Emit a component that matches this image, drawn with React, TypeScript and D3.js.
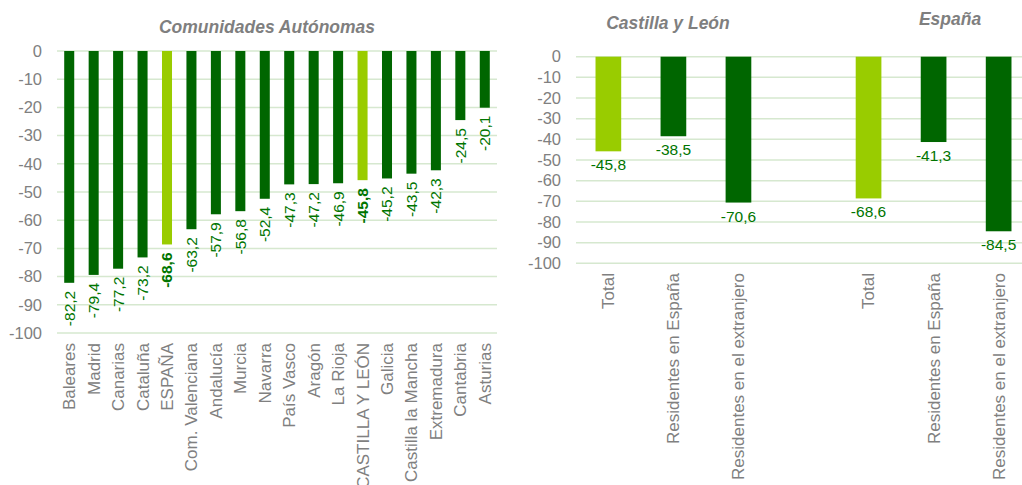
import React from "react";
import * as d3 from "d3";

const regions = [
  "Baleares", "Madrid", "Canarias", "Cataluña", "ESPAÑA", "Com. Valenciana", "Andalucía", "Murcia",
  "Navarra", "País Vasco", "Aragón", "La Rioja", "CASTILLA Y LEÓN", "Galicia", "Castilla la Mancha",
  "Extremadura", "Cantabria", "Asturias",
];
const regionValues = [-82.2, -79.4, -77.2, -73.2, -68.6, -63.2, -57.9, -56.8, -52.4, -47.3, -47.2, -46.9, -45.8, -45.2, -43.5, -42.3, -24.5, -20.1];
const highlighted = ["ESPAÑA", "CASTILLA Y LEÓN"];

const groupCategories = ["Total", "Residentes en España", "Residentes en el extranjero", "", "Total ", "Residentes en España ", "Residentes en el extranjero "];
const groupValues = [-45.8, -38.5, -70.6, null, -68.6, -41.3, -84.5];
const groupHighlighted = ["Total", "Total "];

const yTicks = [0, -10, -20, -30, -40, -50, -60, -70, -80, -90, -100];

const DARK = "#006600";
const LIGHT = "#99cc00";
const LABEL = "#007500";
const GRAY = "#808080";
const GRID = "#d6e8cf";
const FONT = "'Liberation Sans', Arial, sans-serif";

const fmt = (v: number) => v.toFixed(1).replace(".", ",");

export default function App() {
  // left chart
  const xL = d3.scaleBand<string>().domain(regions).range([57, 497]).paddingInner(0.59).paddingOuter(0.295);
  const yL = d3.scaleLinear().domain([0, -100]).range([51, 333]);
  // right chart
  const xR = d3.scaleBand<string>().domain(groupCategories).range([576, 1031]).paddingInner(0.605).paddingOuter(0.3);
  const yR = d3.scaleLinear().domain([0, -100]).range([56.7, 263.3]);

  return (
    <svg width={1022} height={485} style={{ position: "absolute", left: 0, top: 0 }} fontFamily={FONT}>
      <rect width={1022} height={485} fill="#fff" />
      {/* Left chart */}
      <text x={267} y={33} textAnchor="middle" fontSize={17.5} fontWeight="bold" fontStyle="italic" fill="#7f7f7f">
        Comunidades Autónomas
      </text>
      {yTicks.map((t) => (
        <g key={"lg" + t}>
          <line x1={57} x2={497} y1={yL(t)} y2={yL(t)} stroke={GRID} strokeWidth={1.5} />
          <text x={42} y={yL(t)} dy="0.35em" textAnchor="end" fontSize={16.5} fill={GRAY}>{t}</text>
        </g>
      ))}
      {regions.map((r, i) => {
        const v = regionValues[i];
        const cx = xL(r)! + xL.bandwidth() / 2;
        const hl = highlighted.includes(r);
        return (
          <g key={r}>
            <rect x={xL(r)} y={yL(0)} width={xL.bandwidth()} height={yL(v) - yL(0)} fill={hl ? LIGHT : DARK} />
            <text
              transform={`translate(${cx},${yL(v) + 8}) rotate(-90)`}
              textAnchor="end"
              dy="0.35em"
              fontSize={15.5}
              fontWeight={hl ? "bold" : "normal"}
              fill={LABEL}
            >
              {fmt(v)}
            </text>
            <text transform={`translate(${cx},343) rotate(-90)`} textAnchor="end" dy="0.35em" fontSize={17} fill={GRAY}>
              {r}
            </text>
          </g>
        );
      })}

      {/* Right chart */}
      <text x={668} y={29} textAnchor="middle" fontSize={17.5} fontWeight="bold" fontStyle="italic" fill="#7f7f7f">
        Castilla y León
      </text>
      <text x={950} y={25} textAnchor="middle" fontSize={17.5} fontWeight="bold" fontStyle="italic" fill="#7f7f7f">
        España
      </text>
      {yTicks.map((t) => (
        <g key={"rg" + t}>
          <line x1={576} x2={1022} y1={yR(t)} y2={yR(t)} stroke={GRID} strokeWidth={1.5} />
          <text x={561} y={yR(t)} dy="0.35em" textAnchor="end" fontSize={16.5} fill={GRAY}>{t}</text>
        </g>
      ))}
      {groupCategories.map((c, i) => {
        const v = groupValues[i];
        if (v === null) return null;
        const cx = xR(c)! + xR.bandwidth() / 2;
        const hl = groupHighlighted.includes(c);
        return (
          <g key={"r" + i}>
            <rect x={xR(c)} y={yR(0)} width={xR.bandwidth()} height={yR(v) - yR(0)} fill={hl ? LIGHT : DARK} />
            <text x={cx} y={yR(v) + 19} textAnchor="middle" fontSize={15.5} fill={LABEL}>{fmt(v)}</text>
            <text transform={`translate(${cx},273) rotate(-90)`} textAnchor="end" dy="0.35em" fontSize={17} fill={GRAY}>
              {c.trim()}
            </text>
          </g>
        );
      })}
    </svg>
  );
}
